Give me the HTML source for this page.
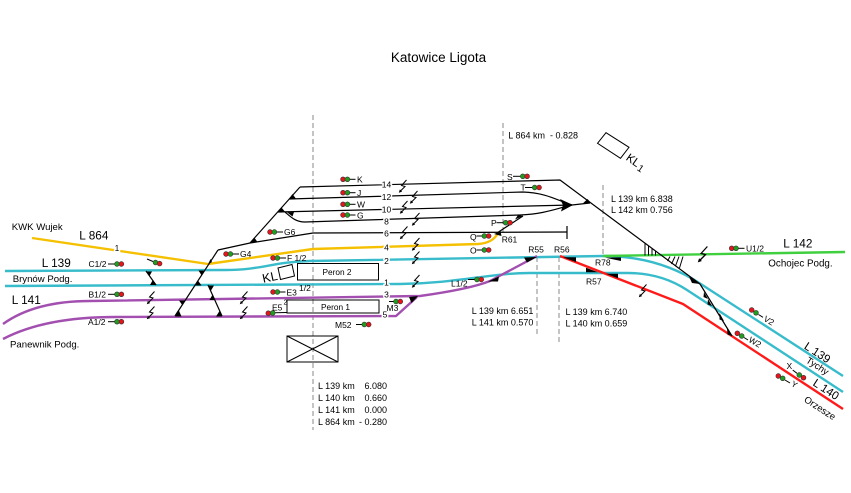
<!DOCTYPE html>
<html><head><meta charset="utf-8">
<style>
html,body{margin:0;padding:0;background:#fff;}
svg{display:block;}
text{font-family:"Liberation Sans",Arial,sans-serif;fill:#000;}
.h{paint-order:stroke;stroke:#fff;stroke-width:3px;stroke-linejoin:round;}
</style></head><body>
<svg width="851" height="493" viewBox="0 0 851 493" xmlns="http://www.w3.org/2000/svg">
<defs>
<g id="bolt"><path d="M3.5,-6 L-1.5,-0.5 L2,0.5 L-2.5,5" fill="none" stroke="#000" stroke-width="1"/><path d="M-4.2,6.7 L-0.9,5.6 L-3.1,3.4Z" fill="#000"/></g>
</defs>
<rect width="851" height="493" fill="#fff"/>

<text x="438.5" y="62" text-anchor="middle" font-size="13.5">Katowice Ligota</text>

<!-- dashed reference lines -->
<g stroke="#8a8a8a" stroke-width="1" stroke-dasharray="5,3" fill="none">
<line x1="313" y1="115" x2="313" y2="430"/>
<line x1="503" y1="123" x2="503" y2="234"/>
<line x1="537" y1="257" x2="537" y2="336"/>
<line x1="559" y1="257" x2="559" y2="345"/>
<line x1="603" y1="185" x2="603" y2="256"/>
</g>

<!-- boxes -->
<g fill="none" stroke="#000" stroke-width="1">
<rect x="297.5" y="263.5" width="81" height="16.5"/>
<rect x="287" y="300" width="92" height="13"/>
<rect x="287" y="336" width="51" height="26"/>
<line x1="287" y1="336" x2="338" y2="362"/>
<line x1="338" y1="336" x2="287" y2="362"/>
<polygon points="278,268 292,264.5 294.5,276 280.5,279.5"/>
<polygon points="597.5,143.3 606,132.7 629,147.3 620.5,158.3"/>
</g>
<text x="337" y="275" text-anchor="middle" font-size="8.3">Peron 2</text>
<text x="335.5" y="310" text-anchor="middle" font-size="8.3">Peron 1</text>
<text x="262" y="281.5" font-size="12.5" transform="rotate(-12 269 276)">KL</text>
<text x="0" y="0" dy=".35em" text-anchor="middle" font-size="11.5" transform="translate(636,162) rotate(35)">KL<tspan font-size="10" dx="1" dy="2">1</tspan></text>

<!-- coloured lines -->
<g fill="none" stroke-width="2.4" stroke-linejoin="round">
<path stroke="#f5c000" d="M32,238 L208,264 L313,249 L478,244 Q493,243 498,233"/>
<path stroke="#38bccb" d="M5,271 L225,270 C262,270 272,262 310,261 L603,256 Q658,256 700,283.5 L843,376"/>
<path stroke="#38bccb" d="M5,286 L400,284 C460,283 490,273 530,273 L628,273 Q661,273 687,290 L843,392"/>
<path stroke="#a24fb0" d="M3,324 Q35,301 90,301 L420,296 Q470,289 490,281 L537,256"/>
<path stroke="#a24fb0" d="M3,339 Q45,317 115,317 L396,316 L417,297"/>
<path stroke="#ff1a1a" d="M560,256 L683,304 L843,409"/>
<path stroke="#3fcf3f" d="M603,256 L845,252"/>
</g>

<!-- black tracks -->
<g fill="none" stroke="#000" stroke-width="1.2" stroke-linejoin="round">
<path d="M300,187 L560,180 L700,284 L732,336"/>
<path d="M250,243 L300,187"/>
<path d="M289,199 L523,192 C548,193 558,201 572,205"/>
<path d="M278,212 L572,205"/>
<path d="M285,212 C292,218 296,222 305,222 L520,215 C545,214 558,208 572,205"/>
<path d="M572,205 L590,203"/>
<path d="M218,250 L250,243 L313,233 L567,232"/>
<path d="M567,226 L567,239"/>
<path d="M175,316 L218,250"/>
<path d="M208,285 L222,316"/>
<path d="M146,271 L156,285"/>
<path d="M497,233 L523,216"/>
</g>

<!-- hatches (bridge) -->
<g stroke="#000" stroke-width="1" fill="none">
<line x1="645" y1="243.2" x2="645" y2="255.5"/>
<line x1="648.5" y1="245.8" x2="648.5" y2="255.5"/>
<line x1="652" y1="248.4" x2="652" y2="255.5"/>
<line x1="655.5" y1="251" x2="655.5" y2="255.5"/>
<line x1="670" y1="256.5" x2="667.5" y2="261"/>
<line x1="675" y1="256.5" x2="671.5" y2="264"/>
<line x1="679" y1="256.5" x2="675.5" y2="266"/>
<line x1="683" y1="256.5" x2="679.5" y2="268"/>
</g>

<!-- turnout triangles -->
<g fill="#000">
<polygon points="146,271.5 152,271.5 149.5,276"/>
<polygon points="156,285 150,285 152.5,280.5"/>
<polygon points="208,264.5 212,262 210.5,259"/>
<polygon points="204.6,270.5 198.5,270.5 201.5,275.2"/>
<polygon points="195,285.5 201.5,285.5 198,280.5"/>
<polygon points="185.3,300.5 179,300.5 182.3,305"/>
<polygon points="175,316.5 181.5,316.5 178.9,310.5"/>
<polygon points="208,285.5 214,285.5 210.7,291"/>
<polygon points="214.8,300 209.5,300 212.3,295"/>
<polygon points="222,316.5 216,316.5 219.5,311"/>
<polygon points="250,243 257.5,242 254.3,237.5"/>
<polygon points="278,212 285,211.8 281.5,207.5"/>
<polygon points="289,199 296,198.8 292.5,194"/>
<polygon points="287,212.2 294,212 292.5,216.5"/>
<polygon points="560,199 573,205 561,211.5 563,205"/>
<polygon points="583,203.3 591,203 587.5,199"/>
<polygon points="494,234 500.5,231.2 501.5,236"/>
<polygon points="515,219.5 523,216 518,215"/>
<polygon points="409,297 418,296 411.5,303"/>
<polygon points="488,281.5 499,276.5 498,281.5"/>
<polygon points="524,257.5 537,257 527,262.5"/>
<polygon points="563,257.3 576,257.3 576,262"/>
<polygon points="586,272.3 598,272.3 586,267.8"/>
<polygon points="606,273.8 618,273.8 618,278.3"/>
<polygon points="605,257.6 621,257.4 621,261"/>
<polygon points="689,276.5 700,284 692,283"/>
<polygon points="704,292 708,299 703.5,297"/>
<polygon points="708,299 712,306 707.5,304.5"/>
<polygon points="719.5,313 724,321 719.5,319.5"/>
<polygon points="727,328 732,336 727.5,334.5"/>
</g>

<!-- insulated joints -->
<use href="#bolt" x="403" y="186"/>
<use href="#bolt" x="414" y="197"/>
<use href="#bolt" x="404" y="207"/>
<use href="#bolt" x="416" y="219"/>
<use href="#bolt" x="404" y="232.5"/>
<use href="#bolt" x="416" y="244"/>
<use href="#bolt" x="416" y="257.5"/>
<use href="#bolt" x="416" y="281"/>
<use href="#bolt" x="151" y="297.5"/>
<use href="#bolt" x="151" y="312.5"/>
<use href="#bolt" x="244" y="297.5"/>
<use href="#bolt" x="244" y="312.5"/>
<use href="#bolt" x="643" y="290.5"/>
<g transform="translate(703,254) scale(1.25)"><use href="#bolt"/></g>

<!-- track numbers -->
<g font-size="8.5" text-anchor="middle">
<text class="h" x="386.5" y="187.5">14</text>
<text class="h" x="386.5" y="200">12</text>
<text class="h" x="386.5" y="212.7">10</text>
<text class="h" x="386.5" y="224.3">8</text>
<text class="h" x="386.5" y="236.7">6</text>
<text class="h" x="386.5" y="250.3">4</text>
<text class="h" x="386.5" y="264">2</text>
<text class="h" x="386.5" y="285.7">1</text>
<text class="h" x="386.5" y="297.7">3</text>
<text class="h" x="385" y="317.5">5</text>
<text class="h" x="117" y="251" font-size="8">1</text>
</g>

<!-- signal stubs -->
<g stroke="#000" stroke-width="1" fill="none">
<line x1="108" y1="264" x2="114.5" y2="264"/>
<line x1="108" y1="294.3" x2="114.5" y2="294.3"/>
<line x1="108" y1="321.7" x2="114.5" y2="321.7"/>
<line x1="147" y1="259" x2="153" y2="261.5"/>
<line x1="233" y1="254" x2="239" y2="254"/>
<line x1="277" y1="232" x2="283" y2="232"/>
<line x1="280" y1="258" x2="286" y2="258"/>
<line x1="280" y1="292" x2="285.5" y2="292"/>
<line x1="275" y1="312.8" x2="287" y2="312.5"/>
<line x1="350" y1="179.3" x2="355.5" y2="179.3"/>
<line x1="350" y1="192.7" x2="355.5" y2="192.7"/>
<line x1="350" y1="204.3" x2="355.5" y2="204.3"/>
<line x1="350" y1="215" x2="355.5" y2="215"/>
<line x1="389" y1="301.5" x2="393.5" y2="301.5"/>
<line x1="356" y1="324.5" x2="361.8" y2="324.5"/>
<line x1="513" y1="176.3" x2="520.3" y2="176.3"/>
<line x1="525" y1="187.5" x2="532" y2="187.5"/>
<line x1="496.5" y1="222.7" x2="503" y2="222.7"/>
<line x1="476.5" y1="236" x2="481.8" y2="236"/>
<line x1="476.5" y1="250" x2="481.8" y2="250"/>
<line x1="468" y1="279.5" x2="474.5" y2="279.5"/>
<line x1="738.5" y1="248.3" x2="744.5" y2="248.3"/>
<line x1="758.5" y1="314.5" x2="763" y2="317.3"/>
<line x1="744" y1="337.5" x2="748" y2="340"/>
<line x1="792.7" y1="370" x2="797" y2="373.3"/>
<line x1="785" y1="380" x2="790" y2="383"/>
</g>

<!-- signal lamps -->
<g stroke="#333" stroke-width="0.6">
<circle cx="117" cy="264" r="2.4" fill="#1f9e1f"/><circle cx="121.4" cy="264" r="2.4" fill="#e8141b"/>
<circle cx="117" cy="294.3" r="2.4" fill="#1f9e1f"/><circle cx="121.4" cy="294.3" r="2.4" fill="#e8141b"/>
<circle cx="117" cy="321.7" r="2.4" fill="#1f9e1f"/><circle cx="121.4" cy="321.7" r="2.4" fill="#e8141b"/>
<circle cx="155.5" cy="262.5" r="2.4" fill="#1f9e1f"/><circle cx="159.6" cy="263.6" r="2.4" fill="#e8141b"/>
<circle cx="226" cy="254" r="2.4" fill="#e8141b"/><circle cx="230.4" cy="254" r="2.4" fill="#1f9e1f"/>
<circle cx="270" cy="232" r="2.4" fill="#e8141b"/><circle cx="274.4" cy="232" r="2.4" fill="#1f9e1f"/>
<circle cx="273" cy="258" r="2.4" fill="#e8141b"/><circle cx="277.4" cy="258" r="2.4" fill="#1f9e1f"/>
<circle cx="273" cy="292" r="2.4" fill="#e8141b"/><circle cx="277.4" cy="292" r="2.4" fill="#1f9e1f"/>
<circle cx="268.3" cy="313.2" r="2.4" fill="#e8141b"/><circle cx="272.7" cy="313" r="2.4" fill="#1f9e1f"/>
<circle cx="343" cy="179.3" r="2.4" fill="#e8141b"/><circle cx="347.4" cy="179.3" r="2.4" fill="#1f9e1f"/>
<circle cx="343" cy="192.7" r="2.4" fill="#e8141b"/><circle cx="347.4" cy="192.7" r="2.4" fill="#1f9e1f"/>
<circle cx="343" cy="204.3" r="2.4" fill="#e8141b"/><circle cx="347.4" cy="204.3" r="2.4" fill="#1f9e1f"/>
<circle cx="343" cy="215" r="2.4" fill="#e8141b"/><circle cx="347.4" cy="215" r="2.4" fill="#1f9e1f"/>
<circle cx="396" cy="301.5" r="2.4" fill="#1f9e1f"/><circle cx="400.3" cy="301.5" r="2.4" fill="#e8141b"/>
<circle cx="364.3" cy="324.5" r="2.4" fill="#1f9e1f"/><circle cx="368.7" cy="324.5" r="2.4" fill="#e8141b"/>
<circle cx="522.8" cy="176.3" r="2.4" fill="#1f9e1f"/><circle cx="527.1" cy="176.3" r="2.4" fill="#e8141b"/>
<circle cx="534.7" cy="187.5" r="2.4" fill="#1f9e1f"/><circle cx="539.1" cy="187.5" r="2.4" fill="#e8141b"/>
<circle cx="505.7" cy="222.7" r="2.4" fill="#1f9e1f"/><circle cx="510" cy="222.7" r="2.4" fill="#e8141b"/>
<circle cx="484.3" cy="236" r="2.4" fill="#1f9e1f"/><circle cx="488.7" cy="236" r="2.4" fill="#e8141b"/>
<circle cx="484.3" cy="250" r="2.4" fill="#1f9e1f"/><circle cx="488.7" cy="250" r="2.4" fill="#e8141b"/>
<circle cx="477" cy="279.5" r="2.4" fill="#1f9e1f"/><circle cx="481.3" cy="279.5" r="2.4" fill="#e8141b"/>
<circle cx="731.7" cy="248.3" r="2.4" fill="#e8141b"/><circle cx="736" cy="248.3" r="2.4" fill="#1f9e1f"/>
<circle cx="751.7" cy="310" r="2.4" fill="#e8141b"/><circle cx="756" cy="312.8" r="2.4" fill="#1f9e1f"/>
<circle cx="737.3" cy="333.3" r="2.4" fill="#e8141b"/><circle cx="741.7" cy="336" r="2.4" fill="#1f9e1f"/>
<circle cx="799.3" cy="375" r="2.4" fill="#1f9e1f"/><circle cx="803.5" cy="377.7" r="2.4" fill="#e8141b"/>
<circle cx="778.3" cy="376" r="2.4" fill="#e8141b"/><circle cx="782.7" cy="378.3" r="2.4" fill="#1f9e1f"/>
</g>

<!-- signal labels -->
<g font-size="8.5">
<text x="88.5" y="267">C1/2</text>
<text x="88.5" y="297.3">B1/2</text>
<text x="88" y="325">A1/2</text>
<text x="240" y="257">G4</text>
<text x="284" y="235">G6</text>
<text x="287" y="261">F 1/2</text>
<text x="286.5" y="295.5">E3</text>
<text x="299" y="291">1/2</text>
<text x="272" y="310.5">E5</text>
<text x="283.5" y="304.5" font-size="7">2</text>
<text x="357" y="182.5">K</text>
<text x="357" y="196">J</text>
<text x="357" y="207.5">W</text>
<text x="357" y="218.3">G</text>
<text x="386.5" y="311">M3</text>
<text x="335" y="328">M52</text>
<text x="507" y="180">S</text>
<text x="520.5" y="190.5">T</text>
<text x="491" y="226">P</text>
<text x="470" y="239.8">Q</text>
<text x="470" y="253.5">O</text>
<text x="451" y="286.5">L1/2</text>
<text x="746" y="251.5">U1/2</text>
<text transform="translate(763,320.5) rotate(30)">V2</text>
<text transform="translate(748,341.5) rotate(30)">W2</text>
<text x="786.5" y="369">X</text>
<text transform="translate(790.5,385.5) rotate(30)">Y</text>
<text x="528.3" y="252.7">R55</text>
<text x="554" y="252.7">R56</text>
<text x="501.7" y="242.7">R61</text>
<text x="595" y="265.7">R78</text>
<text x="586" y="284.5">R57</text>
</g>

<!-- km labels -->
<g font-size="9">
<text x="508.3" y="138.5" xml:space="preserve">L 864 km  - 0.828</text>
<text x="611" y="201.8">L 139 km 6.838</text>
<text x="611" y="212.8">L 142 km 0.756</text>
<text x="471.7" y="314">L 139 km 6.651</text>
<text x="471.7" y="325.5">L 141 km 0.570</text>
<text x="565.5" y="315">L 139 km 6.740</text>
<text x="565.5" y="326.5">L 140 km 0.659</text>
<text x="318" y="389">L 139 km</text><text x="387" y="389" text-anchor="end">6.080</text>
<text x="318" y="401">L 140 km</text><text x="387" y="401" text-anchor="end">0.660</text>
<text x="318" y="413">L 141 km</text><text x="387" y="413" text-anchor="end">0.000</text>
<text x="318" y="425">L 864 km</text><text x="387" y="425" text-anchor="end">- 0.280</text>
</g>

<!-- line labels -->
<text x="11.7" y="230" font-size="9.6">KWK Wujek</text>
<text x="79.3" y="239.3" font-size="11.8">L 864</text>
<text x="41.7" y="267" font-size="11.8">L 139</text>
<text x="12.7" y="281.8" font-size="9.6">Brynów Podg.</text>
<text x="11.7" y="304.2" font-size="11.8">L 141</text>
<text x="10" y="347.3" font-size="9.6">Panewnik Podg.</text>
<text x="783.3" y="247.5" font-size="11.8">L 142</text>
<text x="768.3" y="266.5" font-size="9.8">Ochojec Podg.</text>
<text x="0" y="0" dy=".35em" text-anchor="middle" font-size="11.5" transform="translate(817.5,352.5) rotate(33)">L 139</text>
<text x="0" y="0" dy=".35em" text-anchor="middle" font-size="9.5" transform="translate(817.5,365.8) rotate(33)">Tychy</text>
<text x="0" y="0" dy=".35em" text-anchor="middle" font-size="11.5" transform="translate(826.2,389.2) rotate(33)">L 140</text>
<text x="0" y="0" dy=".35em" text-anchor="middle" font-size="9.5" transform="translate(820,408) rotate(33)">Orzesze</text>
</svg>
</body></html>
